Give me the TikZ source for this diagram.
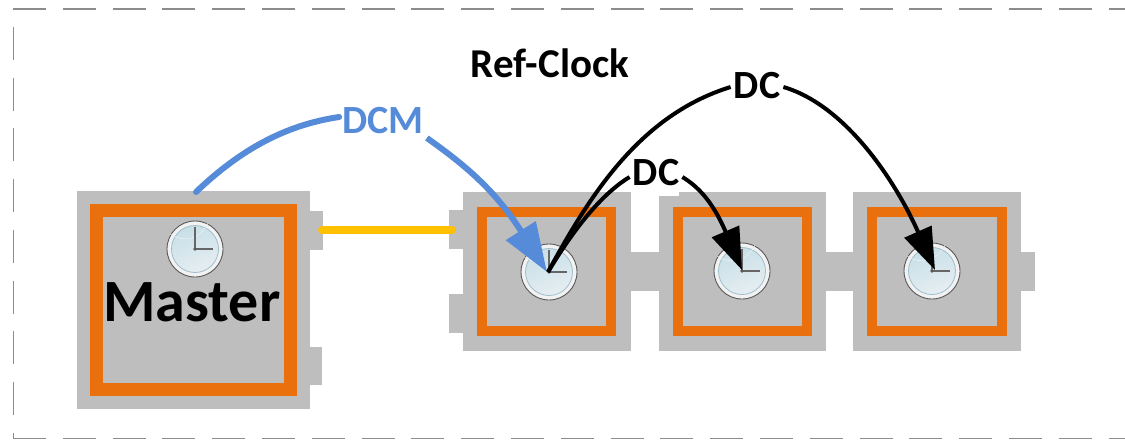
\documentclass[tikz,border=0pt]{standalone}
\usepackage{fontspec}
\setmainfont{Carlito}
\usetikzlibrary{arrows.meta}
\definecolor{boxgray}{HTML}{BEBEBE}
\definecolor{frameorange}{HTML}{EA700E}
\definecolor{dcmblue}{HTML}{558BD8}
\definecolor{linkyellow}{HTML}{FFC000}
\definecolor{bordergray}{HTML}{8C8C8C}
\definecolor{facetop}{HTML}{C8DFE8}
\definecolor{facebot}{HTML}{E6EEF2}
\definecolor{facerim}{HTML}{9DBFCB}
\tikzset{
  graybox/.style={fill=boxgray},
  orangeframe/.style={draw=frameorange,fill=none,line width=#1,line join=miter},
  label/.style={inner sep=0pt,font=\bfseries\fontsize{#1}{#1}\selectfont},
  clockbody/.style={circle,inner sep=0pt,minimum size=56pt,draw=black!65,line width=0.9pt,fill=black!5},
  clockface/.style={circle,inner sep=0pt,minimum size=47pt,draw=facerim,line width=0.8pt,top color=facetop,bottom color=facebot,shading angle=20},
  hand/.style={draw=black!60,line width=1.8pt},
  wire/.style={line width=4pt,draw=black},
  bluewire/.style={line width=6pt,draw=dcmblue},
  bluetip/.style={-{Triangle[length=49pt,width=34pt]}},
  blacktip/.style={-{Triangle[length=42pt,width=29pt]}},
  borderline/.style={draw=bordergray,line width=1.4pt},
}
\newcommand{\clockat}[3]{%
  \node[clockbody] (#1) at (#2,#3) {};
  \node[clockface] (#1f) at (#1) {};
  \draw[draw=white!75!facerim,line width=0.7pt] ([shift={(-23,8)}]#1) .. controls ([shift={(-10,-6)}]#1) and ([shift={(5,-10)}]#1) .. ([shift={(23,-10)}]#1);
  \draw[hand] (#1.center) -- ++(0,-22);
  \draw[hand] (#1.center) -- ++(18,0);
  \fill[black!65] (#1.center) circle (1.8pt);
}
\begin{document}
\begin{tikzpicture}[x=1pt,y=-1pt]
\useasboundingbox (0,0) rectangle (1125,440);
% outer dashed border
\draw[borderline,dash pattern=on 33pt off 16.8pt] (13,9) -- (1130,9);
\draw[borderline,dash pattern=on 33pt off 16.8pt] (13,438.7) -- (1130,438.7);
\draw[borderline,dash pattern=on 33pt off 17.7pt] (13.5,27) -- (13.5,439);
% master
\fill[graybox] (77,191) rectangle (310,409);
\fill[graybox] (309,211) rectangle (323,250);
\fill[graybox] (309,347) rectangle (322,385);
\draw[orangeframe=13pt] (96.5,210.5) rectangle (290.5,389.5);
% slave 1
\fill[graybox] (463,192) rectangle (631,351);
\fill[graybox] (449,210) rectangle (464,249);
\fill[graybox] (449,294) rectangle (464,333);
\draw[orangeframe=10pt] (482,212) rectangle (611,331);
% link 1-2
\fill[graybox] (630,252) rectangle (660,291);
% slave 2
\fill[graybox] (658.5,196) rectangle (680,351);
\fill[graybox] (679,192) rectangle (826,351);
\draw[orangeframe=10pt] (678,212) rectangle (807,331);
% link 2-3
\fill[graybox] (825,252) rectangle (854,291);
% slave 3
\fill[graybox] (853,192) rectangle (1021,351);
\fill[graybox] (1020,252) rectangle (1035,291);
\draw[orangeframe=10pt] (872,212) rectangle (1002,331);
% clocks
\clockat{cm}{195}{249}
\clockat{ca}{549}{272}
\clockat{cb}{742}{271}
\clockat{cc}{932}{271}
% labels
\node[label=60] (master) at (192,302) {Master};
\node[label=41] (ref) at (550,63) {Ref-Clock};
\node[label=40,text=dcmblue] (dcm) at (383,121) {DCM};
\node[label=40] (dcb) at (757,86) {DC};
\node[label=40] (dcs) at (656,173) {DC};
% anchors
\coordinate (tipa) at (547,272);
\coordinate (srca) at (548,272);
\coordinate (tipb) at (742,270);
\coordinate (tipc) at (935,270);
\coordinate (tabm) at (322,230);
\coordinate (tabs) at (452,230);
\coordinate (mtop) at (196,192);
% connectors
\draw[line width=8pt,draw=linkyellow,line cap=round] (tabm) -- (tabs);
\draw[bluewire,line cap=round] (mtop) .. controls (240,150) and (285,125) .. ([shift={(-3,-4)}]dcm.west);
\draw[bluewire,bluetip] ([shift={(3,17)}]dcm.east) .. controls (465,165) and (495,190) .. (tipa);
\draw[wire] (srca) .. controls (590,195) and (640,115) .. ([shift={(-3,1)}]dcb.west);
\draw[wire,blacktip] ([shift={(3,1)}]dcb.east) .. controls (845,105) and (895,180) .. (tipc);
\draw[wire] (srca) .. controls (572,232) and (600,195) .. ([shift={(-3,4)}]dcs.west);
\draw[wire,blacktip] ([shift={(3,4)}]dcs.east) .. controls (697,186) and (712,200) .. (tipb);
\end{tikzpicture}
\end{document}
